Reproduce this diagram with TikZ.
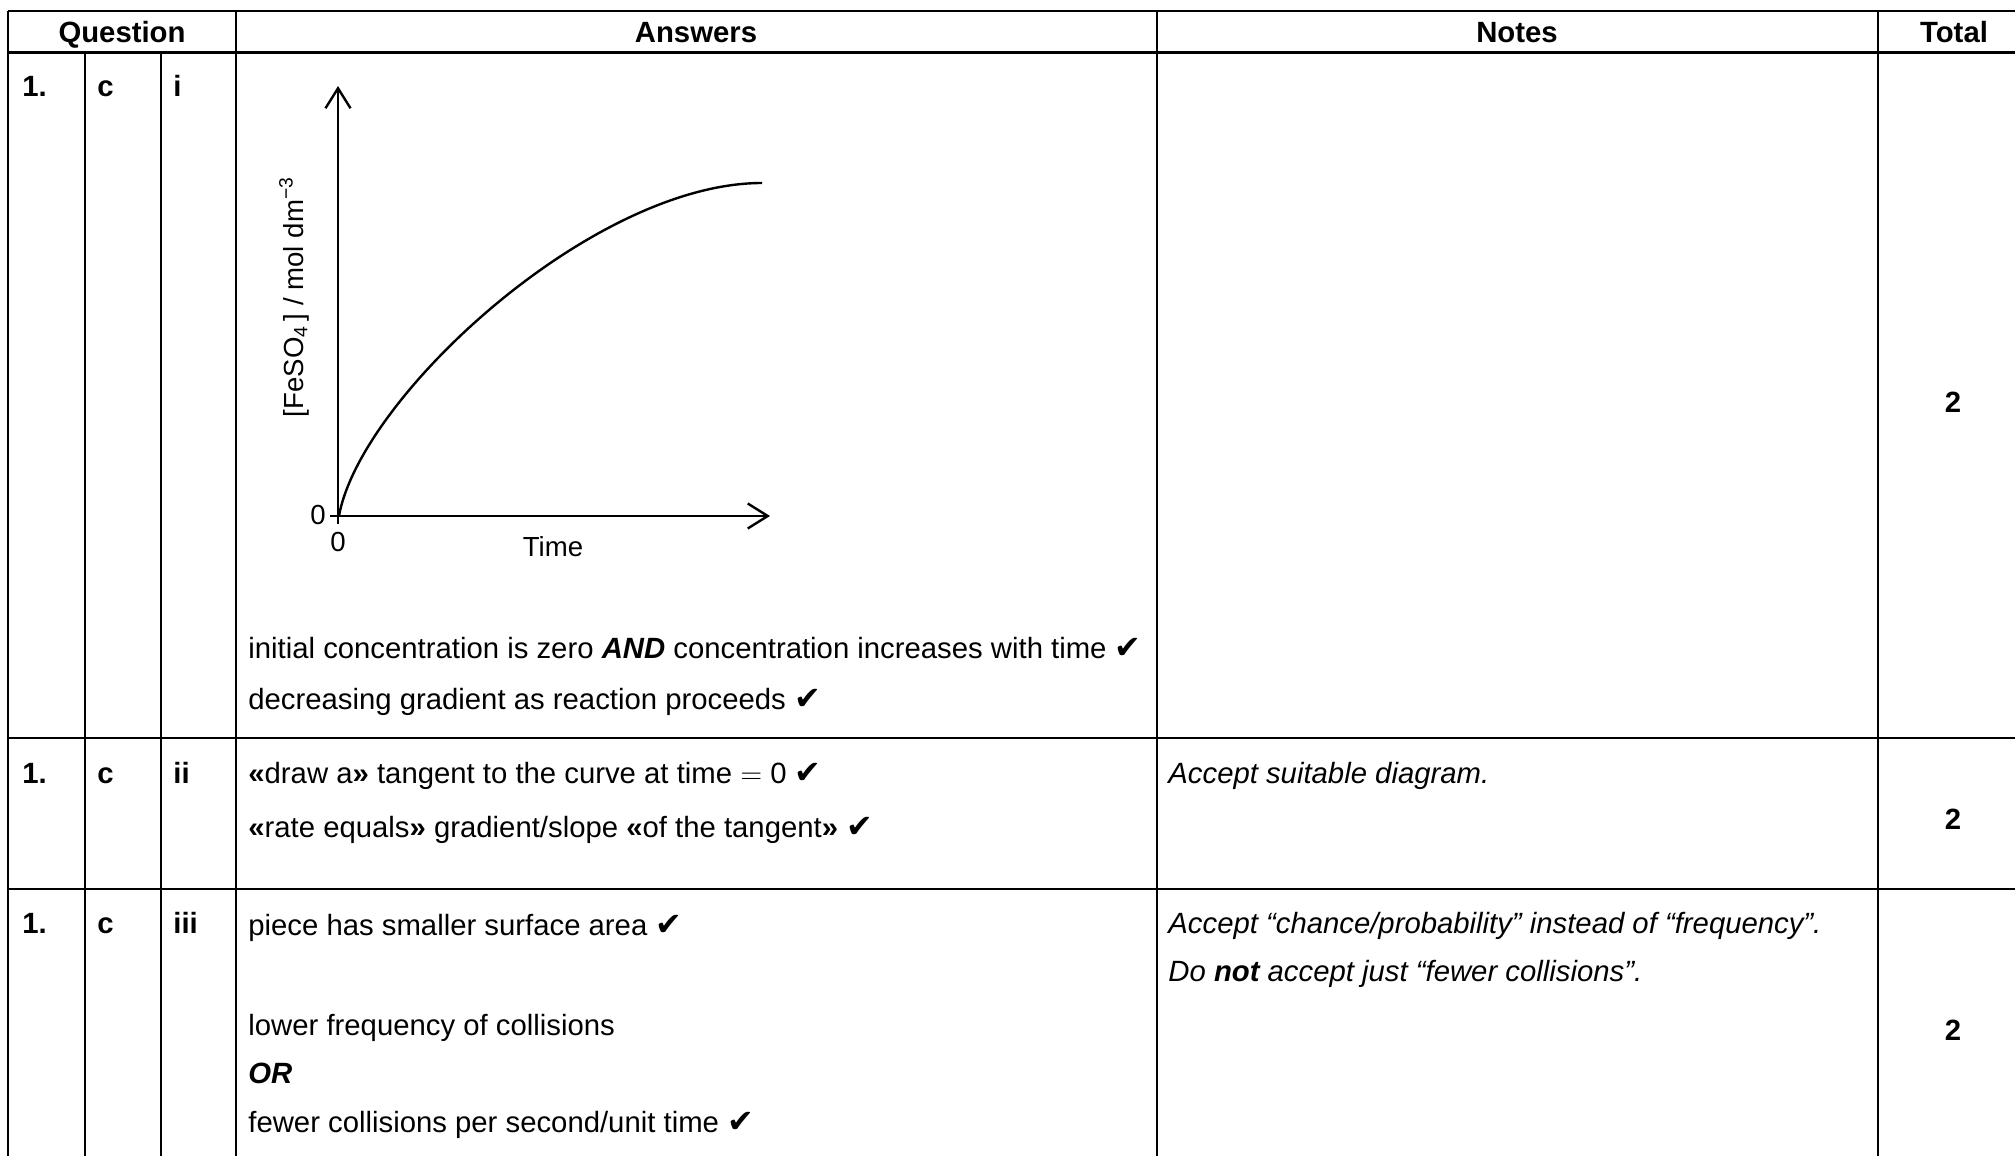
\documentclass[tikz,border=0pt]{standalone}
\usepackage{fontspec}
\setmainfont{Liberation Sans}
\newfontfamily\ckfont{DejaVu Sans}
\usetikzlibrary{arrows.meta}
\newcommand{\ck}{{\ckfont\fontsize{16}{17}\selectfont ✔}}
\newcommand{\gl}{\textbf{«}}
\newcommand{\gr}{\textbf{»}}
\tikzset{
  gridline/.style={line width=1.4pt},
  txt/.style={anchor=base west, inner sep=0pt, font=\fontsize{14.65}{17}\selectfont},
  lbl/.style={anchor=base west, inner sep=0pt, font=\fontsize{14.65}{17}\selectfont\bfseries},
  hdr/.style={anchor=base, inner sep=0pt, font=\fontsize{14.65}{17}\selectfont\bfseries},
  tot/.style={anchor=center, inner sep=0pt, font=\fontsize{14.65}{17}\selectfont\bfseries},
  gtxt/.style={inner sep=0pt, font=\fontsize{13.8}{16}\selectfont},
  axisline/.style={line width=1.2pt, -{Straight Barb[length=10pt,width=12.5pt,line width=1.2pt]}},
}
\begin{document}
\begin{tikzpicture}[x=0.5pt,y=-0.5pt]
\useasboundingbox (0,0) rectangle (2015,1156);
% grid
\draw[gridline] (8,11) -- (2015,11);
\draw[gridline] (8,52.5) -- (2015,52.5);
\draw[gridline] (8,738) -- (2015,738);
\draw[gridline] (8,889) -- (2015,889);
\draw[gridline] (8,11) -- (8,1156);
\draw[gridline] (236,11) -- (236,1156);
\draw[gridline] (1157,11) -- (1157,1156);
\draw[gridline] (1878,11) -- (1878,1156);
\draw[gridline] (85,52.5) -- (85,1156);
\draw[gridline] (161,52.5) -- (161,1156);
% header
\node[hdr] (hq) at (122,43) {Question};
\node[hdr] (ha) at (696,43) {Answers};
\node[hdr] (hn) at (1517,43) {Notes};
\node[hdr] (ht) at (1954,43) {Total};
% row 1
\node[lbl] (r1a) at (22,97) {1.};
\node[lbl] (r1b) at (97,97) {c};
\node[lbl] (r1c) at (173,97) {i};
% graph
\coordinate (O) at (339,516);
\coordinate (ytop) at (338,86);
\coordinate (ybot) at (338,524);
\coordinate (xleft) at (330,516);
\coordinate (xright) at (770,516);
\coordinate (cend) at (762,183);
\draw[axisline] (ybot) -- (ytop);
\draw[axisline] (xleft) -- (xright);
\draw[line width=1.2pt] (O) .. controls (360,398) and (592,183) .. (cend);
\node[gtxt, rotate=90, anchor=base] (ylab) at (303,297) {[FeSO\textsubscript{4}\,] / mol dm\textsuperscript{−3}};
\node[gtxt, anchor=center] (zy) at (318,515) {0};
\node[gtxt, anchor=center] (zx) at (338,542) {0};
\node[gtxt, anchor=center] (tlab) at (553,547) {Time};
\node[txt] (a11) at (248,658) {initial concentration is zero \textbf{\textit{AND}} concentration increases with time \ck};
\node[txt] (a12) at (248,709) {decreasing gradient as reaction proceeds \ck};
\node[tot] (t1) at (1953,402) {2};
% row 2
\node[lbl] (r2a) at (22,783) {1.};
\node[lbl] (r2b) at (97,783) {c};
\node[lbl] (r2c) at (173,783) {ii};
\node[txt] (a21) at (248,783) {\gl draw a\gr{} tangent to the curve at time $=$ 0 \ck};
\node[txt] (a22) at (248,837) {\gl rate equals\gr{} gradient/slope \gl of the tangent\gr{} \ck};
\node[txt] (n21) at (1168,783) {\textit{Accept suitable diagram.}};
\node[tot] (t2) at (1953,819) {2};
% row 3
\node[lbl] (r3a) at (22,933) {1.};
\node[lbl] (r3b) at (97,933) {c};
\node[lbl] (r3c) at (173,933) {iii};
\node[txt] (a31) at (248,935) {piece has smaller surface area \ck};
\node[txt] (a32) at (248,1035) {lower frequency of collisions};
\node[txt] (a33) at (248,1083) {\textbf{\textit{OR}}};
\node[txt] (a34) at (248,1132) {fewer collisions per second/unit time \ck};
\node[txt] (n31) at (1168,933) {\textit{Accept “chance/probability” instead of “frequency”.}};
\node[txt] (n32) at (1168,981) {\textit{Do \textbf{not} accept just “fewer collisions”.}};
\node[tot] (t3) at (1953,1030) {2};
\end{tikzpicture}
\end{document}
